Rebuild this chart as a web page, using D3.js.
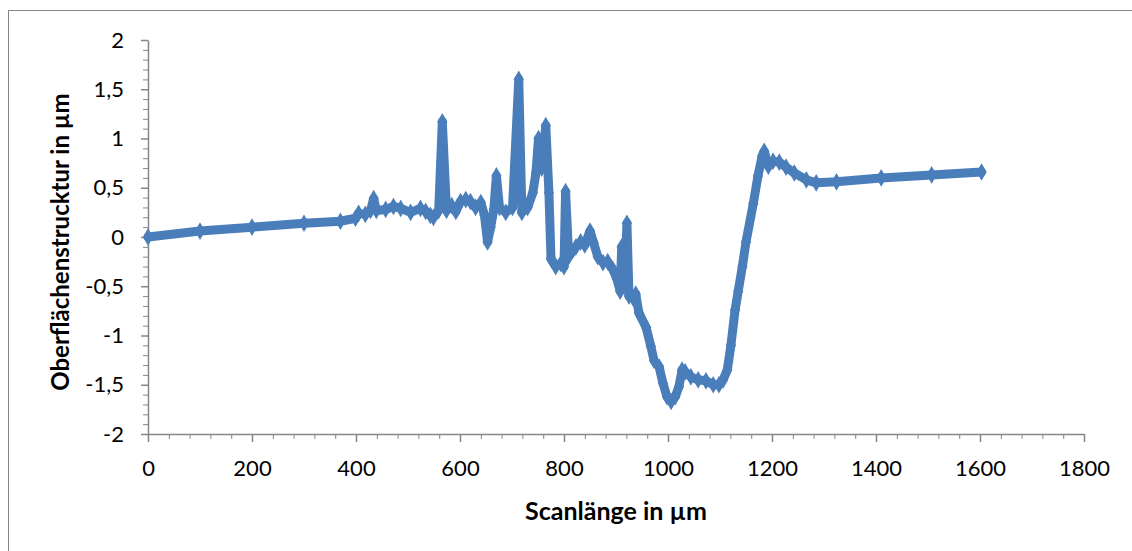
<!DOCTYPE html>
<html lang="de">
<head>
<meta charset="UTF-8">
<title>Oberflächenstruktur</title>
<script src="https://d3js.org/d3.v7.min.js"></script>
<style>
    html, body { margin: 0; padding: 0; background: #fff; }
    svg { display: block; }
    .tick text { font-family: Lato, "Open Sans", sans-serif; font-size: 22px; fill: #000; }
    .axis-title { font-family: Lato, "Open Sans", sans-serif; font-weight: bold; fill: #000; }
</style>
</head>
<body>
<div id="chart"></div>
<script>
// scan position in µm
const scanX = [0, 100, 200, 300, 370, 399, 405, 418, 428, 434, 439, 457, 472, 486, 505, 524, 534, 543, 549, 559,
    566, 574, 584, 592, 601, 611, 620, 630, 640, 647, 653, 659, 665, 670, 676, 688, 701, 713, 719, 730,
    740, 746, 751, 757, 765, 771, 775, 784, 794, 800, 803, 809, 823, 832, 840, 850, 857, 865, 875, 884,
    894, 902, 908, 911, 917, 921, 925, 933, 938, 944, 958, 967, 973, 983, 990, 998, 1006, 1014, 1021, 1027,
    1033, 1044, 1058, 1073, 1087, 1098, 1106, 1114, 1121, 1129, 1135, 1143, 1150, 1164, 1173, 1181, 1185, 1193, 1202, 1214,
    1227, 1243, 1266, 1285, 1324, 1410, 1507, 1603];
// surface height in µm
const heightY = [0, 0.06, 0.1, 0.14, 0.16, 0.19, 0.24, 0.23, 0.27, 0.39, 0.27, 0.28, 0.31, 0.29, 0.25, 0.29, 0.26, 0.22, 0.2, 0.27,
    1.17, 0.27, 0.32, 0.26, 0.36, 0.38, 0.36, 0.3, 0.35, 0.22, -0.05, 0.1, 0.28, 0.62, 0.3, 0.25, 0.3, 1.6, 0.25, 0.3,
    0.45, 0.65, 1.0, 0.7, 1.13, 0.45, -0.22, -0.3, -0.27, -0.3, 0.46, -0.2, -0.1, -0.05, -0.08, 0.06, -0.06, -0.2, -0.26, -0.25,
    -0.33, -0.43, -0.55, -0.1, -0.5, 0.14, -0.6, -0.62, -0.58, -0.77, -0.92, -1.11, -1.25, -1.32, -1.48, -1.62, -1.67, -1.62, -1.52, -1.35,
    -1.37, -1.42, -1.45, -1.46, -1.5, -1.5, -1.45, -1.35, -1.1, -0.74, -0.55, -0.3, -0.05, 0.34, 0.62, 0.82, 0.87, 0.72, 0.77, 0.76,
    0.71, 0.65, 0.58, 0.55, 0.56, 0.6, 0.63, 0.66];

const xMajorTicks = [0, 200, 400, 600, 800, 1000, 1200, 1400, 1600, 1800];
const yMajorTicks = [-2, -1.5, -1, -0.5, 0, 0.5, 1, 1.5, 2];

const xTitle = "Scanlänge in µm";
const yTitle = "Oberflächenstrucktur in µm";

const W = 1132, H = 551;
const axisColor = "#868686";
const lineColor = "#4a7ebb";

const svg = d3.select("#chart").append("svg")
    .attr("width", W)
    .attr("height", H);

// chart frame
svg.append("rect")
    .attr("x", 8.5).attr("y", 10.5)
    .attr("width", 1130).attr("height", 545)
    .attr("fill", "none")
    .attr("stroke", axisColor)
    .attr("stroke-width", 1);

const x = d3.scaleLinear().domain([0, 1800]).range([148, 1084]);
const y = d3.scaleLinear().domain([-2, 2]).range([434, 40]);

const de = d3.formatLocale({ decimal: ",", thousands: ".", grouping: [3], currency: ["", " €"], minus: "-" });
const fmtY = de.format("~g");

// minor ticks
const xMinor = d3.range(0, 1801, 40).filter(v => v % 200 !== 0);
const yMinor = d3.range(-20, 21, 1).map(v => v / 10).filter(v => Math.abs(v * 2 - Math.round(v * 2)) > 1e-6);

svg.append("g")
    .attr("transform", "translate(0," + y(-2) + ")")
    .call(d3.axisBottom(x).tickValues(xMinor).tickSize(5).tickFormat(""))
    .call(g => g.select(".domain").remove())
    .selectAll("line").attr("stroke", axisColor);

svg.append("g")
    .attr("transform", "translate(" + x(0) + ",0)")
    .call(d3.axisLeft(y).tickValues(yMinor).tickSize(5).tickFormat(""))
    .call(g => g.select(".domain").remove())
    .selectAll("line").attr("stroke", axisColor);

// major axes
const xAxis = svg.append("g")
    .attr("transform", "translate(0," + y(-2) + ")")
    .call(d3.axisBottom(x).tickValues(xMajorTicks).tickSize(8).tickSizeOuter(0).tickPadding(18).tickFormat(d3.format("d")));
xAxis.select(".domain").attr("stroke", axisColor).attr("stroke-width", 1.5);
xAxis.selectAll(".tick line").attr("stroke", axisColor).attr("stroke-width", 1.5);

const yAxis = svg.append("g")
    .attr("transform", "translate(" + x(0) + ",0)")
    .call(d3.axisLeft(y).tickValues(yMajorTicks).tickSize(7).tickSizeOuter(0).tickPadding(17).tickFormat(fmtY));
yAxis.select(".domain").attr("stroke", axisColor).attr("stroke-width", 1.5);
yAxis.selectAll(".tick line").attr("stroke", axisColor).attr("stroke-width", 1.5);

// axis titles
svg.append("text")
    .attr("class", "axis-title")
    .attr("x", 616).attr("y", 520)
    .attr("text-anchor", "middle")
    .style("font-size", "25px")
    .text(xTitle);

svg.append("text")
    .attr("class", "axis-title")
    .attr("transform", "translate(69,242) rotate(-90)")
    .attr("text-anchor", "middle")
    .style("font-size", "24px")
    .text(yTitle);

// profile
const points = scanX.map((v, i) => ({ x: v, y: heightY[i] }));

svg.append("path")
    .datum(points)
    .attr("fill", "none")
    .attr("stroke", lineColor)
    .attr("stroke-width", 9)
    .attr("stroke-linejoin", "round")
    .attr("stroke-linecap", "round")
    .attr("d", d3.line().x(d => x(d.x)).y(d => y(d.y)));

svg.selectAll(".marker")
    .data(points)
    .enter()
    .append("path")
    .attr("class", "marker")
    .attr("transform", d => "translate(" + x(d.x) + "," + y(d.y) + ")")
    .attr("d", d3.symbol().type(d3.symbolDiamond).size(90))
    .attr("fill", lineColor);
</script>
</body>
</html>
